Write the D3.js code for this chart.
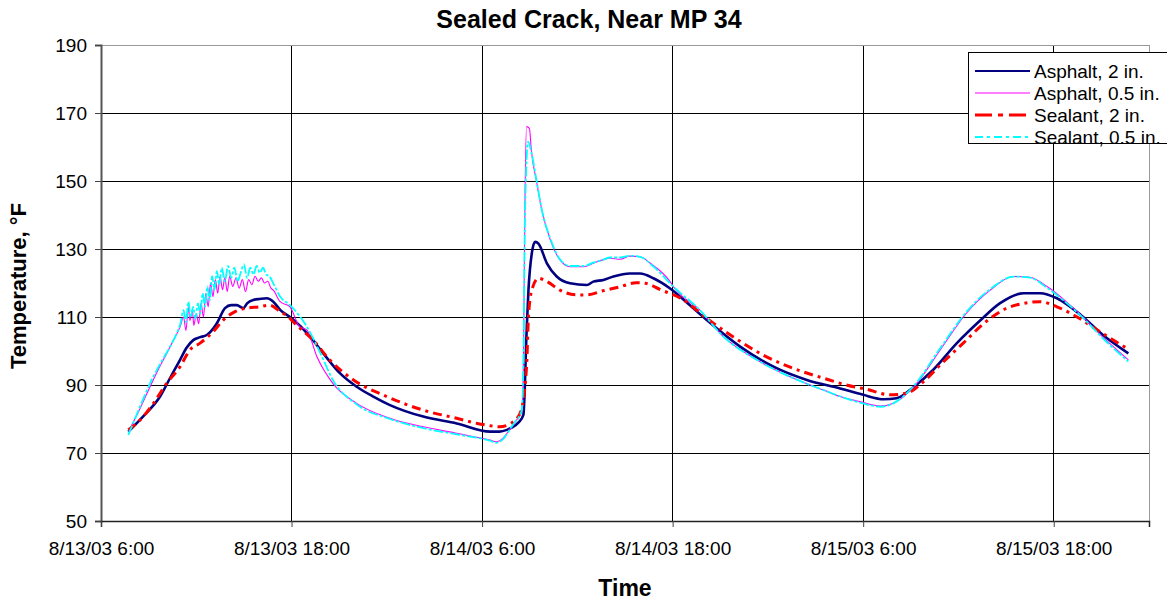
<!DOCTYPE html>
<html><head><meta charset="utf-8">
<script src="https://cdn.jsdelivr.net/npm/d3@7"></script>
<style>body{margin:0;background:#fff}svg{display:block}text{font-family:"Liberation Sans",Arial,sans-serif}</style>
</head><body>
<svg id="c" width="1167" height="602"></svg>
<script>
// Hours after 8/13/03 6:00
const startDate = new Date(2003, 7, 13, 6, 0);
const xTickHours = [0, 12, 24, 36, 48, 60];
const xTickLabels = ["8/13/03 6:00", "8/13/03 18:00", "8/14/03 6:00", "8/14/03 18:00", "8/15/03 6:00", "8/15/03 18:00"];
const yTicks = [50, 70, 90, 110, 130, 150, 170, 190];
const seriesNames = ["Asphalt, 2 in.", "Asphalt, 0.5 in.", "Sealant, 2 in.", "Sealant, 0.5 in."];

const asphalt2Hours = [1.72,2.6,3.72,4.4,4.98,5.4,5.81,6.2,6.66,7.29,7.81,8.2,8.55,8.96,9.2,9.59,10.0,10.44,10.85,11.28,12.01,13.17,14.0,15.06,16.1,17.15,18.2,20.3,22.4,24.5,25.1,25.56,25.8,26.3,26.6,26.8,26.92,27.13,27.34,27.55,28.08,28.7,29.54,30.6,31.0,31.64,32.27,33.3,33.95,34.79,35.84,37.0,38.15,40.25,42.35,44.45,46.55,48.0,49.3,50.1,51.2,52.4,53.9,55.4,56.6,58.1,59.15,60.2,61.7,63.1,64.7];
const asphalt2Temps = [76.3,80.5,86.6,92.5,97.4,101,103.2,104,104.7,108.1,112.6,113.5,113.5,112.6,114,115,115.3,115.5,114.5,112.1,109.6,104.2,99.3,93.4,89.5,86.6,84.1,80.7,78.7,76.3,76.3,76.8,77.3,79,81.2,105.2,117.9,128.7,132.1,131.6,125.8,121.9,119.9,119.4,120.4,120.9,121.9,122.8,122.8,121.4,118.4,113.8,109.1,101.3,95.4,91.5,89.0,87.1,85.8,86.1,89.5,94.4,102.3,109.1,114.0,117.0,117.0,115.5,110.6,104.7,99.3];

const asphalt05Hours = [1.72,2.4,3.09,3.6,4.14,4.6,4.98,5.2,5.35,5.5,5.6,5.75,5.85,6.0,6.15,6.3,6.45,6.6,6.75,6.9,7.05,7.2,7.35,7.5,7.65,7.8,7.95,8.1,8.3,8.5,8.7,8.9,9.1,9.3,9.5,9.7,9.9,10.1,10.3,10.5,10.7,10.85,11.28,11.9,12.5,12.96,13.6,14.6,16.1,18.2,20.3,22.4,24.5,24.9,25.3,25.8,26.0,26.5,26.6,26.7,26.8,26.98,27.1,27.45,27.76,28.3,28.9,29.54,30.4,31.0,31.6,32.06,32.7,33.3,33.95,34.6,35.84,36.05,37.7,39.2,41.3,43.4,45.5,46.55,47.8,49.1,49.9,51.2,52.85,54.5,56.0,57.5,58.5,59.6,61.7,63.3,64.7];
const asphalt05Temps = [76.3,82.5,89.5,94.5,99.3,103.5,107.1,110,106,113,109,112,107.5,111,108,114,110,117,113,120,116,121,117,122,118,121.5,117.5,122,119,121.5,118.5,121,117.5,121,119.5,122,120.5,121.5,120,120.5,118.5,117.9,114.5,113.0,107.2,106.2,98.3,90.5,84.6,80.2,77.7,75.8,73.8,73.3,74.3,77.3,78.7,82.6,95.4,144.4,166,165.5,159.1,149.3,141.5,132.6,126.8,124.8,124.8,125.8,126.8,127.3,127.0,127.9,127.7,125.8,120.4,118.9,112.1,104.2,97.4,92.4,88.5,86.6,85.1,83.8,84.6,89.5,100.3,111.1,117.9,121.9,121.7,118.9,110.6,103.2,97.4];

const sealant2Hours = [1.72,2.66,3.3,4.14,4.98,5.6,6.24,7.07,7.7,8.33,9.18,10.0,10.6,11.28,11.9,12.1,13.4,14.4,15.9,18.0,20.3,22.4,23.7,24.3,25.1,25.8,26.4,26.8,26.92,27.13,27.55,28.1,28.9,29.96,30.6,31.6,32.7,33.7,34.3,35.2,36.7,38.15,39.8,41.7,43.6,45.5,47.6,48.0,49.7,50.75,51.8,52.85,54.3,55.6,57.05,58.1,59.15,60.2,61.25,62.9,64.6];
const sealant2Temps = [76.8,80.7,84.6,90.5,95.4,100.3,102.3,105.7,109.1,111.3,112.6,113.0,113.5,111.6,109.6,108.6,103.0,97.4,91.5,86.6,82.6,80.2,78.7,78.2,77.7,78.7,81.7,95.4,110.1,117.9,121.4,120.4,117.9,116.5,116.5,117.7,118.9,120.1,119.9,118.1,115.0,109.6,104.2,98.8,94.9,92.0,89.3,89.0,87.1,87.6,91.0,95.9,102.3,108.1,112.6,114.0,114.5,113.0,110.6,105.7,100.8];

const sealant05Hours = [1.72,2.4,3.09,3.7,4.35,4.8,5.0,5.2,5.35,5.5,5.65,5.8,5.95,6.1,6.25,6.4,6.55,6.7,6.85,7.0,7.15,7.3,7.45,7.6,7.8,8.0,8.2,8.4,8.6,8.8,9.0,9.2,9.4,9.6,9.8,10.0,10.2,10.4,10.6,10.85,11.28,11.9,12.96,13.8,14.6,16.1,18.2,20.3,22.4,24.5,24.9,25.3,25.8,26.0,26.5,26.6,26.7,26.9,27.1,27.45,27.76,28.3,28.9,29.54,30.4,31.0,31.6,32.06,32.7,33.3,33.95,34.8,36.05,37.7,39.2,41.3,43.4,45.5,47.8,49.1,49.9,51.2,52.85,54.5,56.0,57.5,58.5,59.6,61.7,63.3,64.7];
const sealant05Temps = [75.3,83,90.5,96,101.3,105.5,108,112,108.5,114.5,110,113,109.5,114,111,117,113,119,115,122,118,123.5,119.5,124.5,120.5,125,121.5,124.5,120.5,123,125.5,121.5,124.5,122.5,125,123,124.5,122.5,122,119.9,116.0,113.5,107.2,99.5,91.5,84.3,80.0,77.3,75.5,73.6,73.0,74.0,77.3,78.7,82.6,95.4,140,161.6,158.5,149.5,141.5,133,127,125,125,126,126.8,127.5,127.5,128,127.7,124.8,118.9,112.1,104.2,97.4,92.4,88.5,84.8,83.6,84.6,89.8,100.8,111.5,118.2,121.9,121.6,118.5,110.4,102.8,96.9];

const seriesHours = [asphalt2Hours, asphalt05Hours, sealant2Hours, sealant05Hours];
const seriesTemps = [asphalt2Temps, asphalt05Temps, sealant2Temps, sealant05Temps];
const seriesColors = ["#000080", "#FF00FF", "#FF0000", "#00FFFF"];
const seriesWidths = [2.6, 1.1, 3, 1.8];
const seriesDash = [null, null, "9,5,3,5", "10,2,3,2"];
const legendDash = [null, null, "17,6,5,6", "8,4,3,4"];

const toDate = h => new Date(startDate.getTime() + h * 3600e3);
const svg = d3.select("#c");
const L = 101, R = 1149, T = 45, B = 521;
const x = d3.scaleTime().domain([toDate(0), toDate(66)]).range([L, R]);
const y = d3.scaleLinear().domain([50, 190]).range([B, T]);
const FONT = "Liberation Sans, Arial, sans-serif";

// gridlines
const g = svg.append("g");
g.selectAll("line.h").data(yTicks.slice(1, -1)).join("line")
  .attr("x1", L).attr("x2", R).attr("y1", d => y(d)).attr("y2", d => y(d))
  .attr("stroke", "#000").attr("stroke-width", 1).attr("shape-rendering", "crispEdges");
g.selectAll("line.v").data(xTickHours.slice(1)).join("line")
  .attr("x1", d => x(toDate(d))).attr("x2", d => x(toDate(d))).attr("y1", T).attr("y2", B)
  .attr("stroke", "#000").attr("stroke-width", 1).attr("shape-rendering", "crispEdges");
// plot border
svg.append("line").attr("x1", L).attr("x2", R).attr("y1", T).attr("y2", T).attr("stroke", "#999").attr("shape-rendering", "crispEdges");
svg.append("line").attr("x1", R).attr("x2", R).attr("y1", T).attr("y2", B).attr("stroke", "#999").attr("shape-rendering", "crispEdges");

// axes
const yAxis = d3.axisLeft(y).tickValues(yTicks).tickSize(6).tickPadding(8);
const ya = svg.append("g").attr("transform", `translate(${L},0)`).call(yAxis);
ya.select(".domain").attr("stroke", "#555").attr("stroke-width", 2);
ya.selectAll(".tick line").attr("stroke", "#444");
ya.selectAll("text").attr("font-size", 19).attr("fill", "#000").attr("font-family", FONT);

const xAxis = d3.axisBottom(x).tickValues(xTickHours.map(toDate)).tickSize(6).tickPadding(15)
  .tickFormat((d, i) => xTickLabels[i]);
const xa = svg.append("g").attr("transform", `translate(0,${B})`).call(xAxis);
xa.select(".domain").attr("stroke", "#222").attr("stroke-width", 1.5);
xa.selectAll(".tick line").attr("stroke", "#444");
xa.selectAll("text").attr("font-size", 19).attr("fill", "#000").attr("font-family", FONT);

// series
const line = d3.line().x(d => x(toDate(d[0]))).y(d => y(d[1])).curve(d3.curveMonotoneX);
seriesNames.forEach((name, i) => {
  const pts = seriesHours[i].map((h, k) => [h, seriesTemps[i][k]]);
  svg.append("path").datum(pts).attr("d", line).attr("fill", "none")
    .attr("stroke", seriesColors[i]).attr("stroke-width", seriesWidths[i])
    .attr("stroke-dasharray", seriesDash[i]).attr("stroke-linejoin", "round");
});

// titles
svg.append("text").attr("x", 589).attr("y", 28).attr("text-anchor", "middle")
  .attr("font-size", 25).attr("font-weight", "bold").text("Sealed Crack, Near MP 34");
svg.append("text").attr("x", 625).attr("y", 596).attr("text-anchor", "middle")
  .attr("font-size", 23).attr("font-weight", "bold").text("Time");
svg.append("text").attr("transform", "translate(26,286) rotate(-90)").attr("text-anchor", "middle")
  .attr("font-size", 22).attr("font-weight", "bold").text("Temperature, °F");

// legend
const lg = svg.append("g");
const lx = 968, ly = 52, rowH = 22;
lg.append("rect").attr("x", lx + 0.5).attr("y", ly + 0.5).attr("width", 1167 - lx + 5).attr("height", rowH * 4 + 3)
  .attr("fill", "#fff").attr("stroke", "#000");
seriesNames.forEach((name, i) => {
  const cy = ly + 19 + i * rowH;
  lg.append("line").attr("x1", lx + 7).attr("x2", lx + 62).attr("y1", cy).attr("y2", cy)
    .attr("stroke", seriesColors[i]).attr("stroke-width", i === 1 ? 1.2 : (i === 2 ? 3 : 2.2))
    .attr("stroke-dasharray", legendDash[i]);
  lg.append("text").attr("x", lx + 66).attr("y", cy + 6.5).attr("font-size", 19).text(name);
});
</script>
</body></html>
